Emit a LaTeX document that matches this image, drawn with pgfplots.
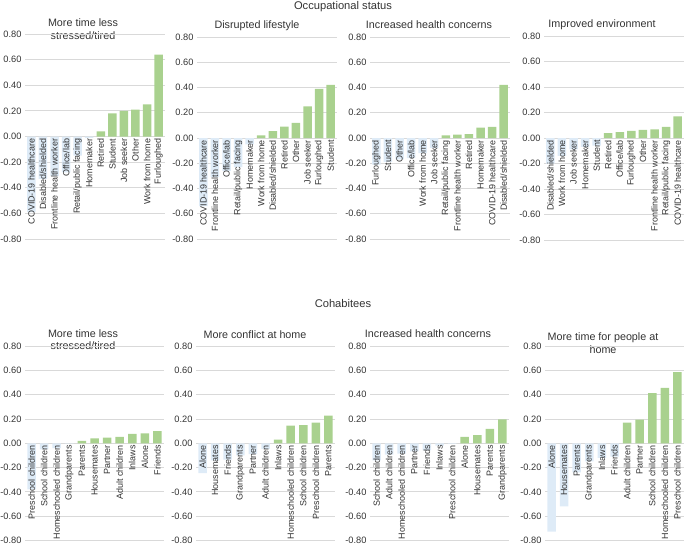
\documentclass[border=0pt]{standalone}
\usepackage{fontspec}
\setmainfont{Liberation Sans}
\usepackage{pgfplots}
\pgfplotsset{compat=1.18}
\definecolor{posgreen}{HTML}{A9D18E}
\definecolor{negblue}{HTML}{DEEBF7}
\definecolor{gridgray}{HTML}{D9D9D9}
\definecolor{txt}{HTML}{333333}
\pgfplotsset{
  panel/.style={
    scale only axis, width=140bp,
    ymin=-0.8, ymax=0.8,
    axis x line=middle, axis y line=left,
    axis line style={draw=none},
    major tick length=0pt,
    hide obscured y ticks=false, hide obscured x ticks=false,
    ytick={-0.8,-0.6,-0.4,-0.2,0,0.2,0.4,0.6,0.8},
    yticklabels={-0.80,-0.60,-0.40,-0.20,0.00,0.20,0.40,0.60,0.80},
    ymajorgrids, grid style={draw=gridgray, line width=0.8bp},
    xticklabel style={rotate=90, anchor=east, font=\fontsize{9}{10}\selectfont, text=txt, inner sep=2bp},
    yticklabel style={font=\fontsize{9.3}{11}\selectfont, text=txt},
    ybar, bar width=8.5bp,
    clip=false, anchor=south west,
  },
  % overlay axis that only carries the category names, drawn above the bars
  names/.style={ymajorgrids=false, ytick=\empty},
  occ/.style={panel, xmin=-0.55, xmax=11.55, xtick={0,...,11}},
  coh/.style={panel, width=139bp, height=194.5bp, xmin=-0.52, xmax=10.52, xtick={0,...,10}},
  neg/.style={fill=negblue, draw=none, bar shift=0pt},
  pos/.style={fill=posgreen, draw=none, bar shift=0pt},
}
\begin{document}
\begin{tikzpicture}
\useasboundingbox (0,0) rectangle (685bp,-551bp);
\tikzset{ttl/.style={font=\fontsize{10.8}{12.5}\selectfont, text=txt, align=center, inner sep=0pt}}
\node[font=\fontsize{11.2}{13}\selectfont, text=txt, inner sep=0pt] at (343bp,-7bp) {Occupational status};
\node[font=\fontsize{11.2}{13}\selectfont, text=txt, inner sep=0pt] at (343bp,-304bp) {Cohabitees};

% ---------- Occupational status ----------
\node[ttl] at (83bp,-29bp) {More time less\\stressed/tired};
\begin{axis}[occ, at={(25bp,-239bp)}, height=205bp, xticklabels={}]
\addplot[neg] coordinates {(0,-0.59) (1,-0.33) (2,-0.31) (3,-0.28) (4,-0.15) (5,-0.01)};
\addplot[pos] coordinates {(6,0.04) (7,0.18) (8,0.20) (9,0.21) (10,0.25) (11,0.64)};
\end{axis}
\begin{axis}[occ, names, at={(25bp,-239bp)}, height=205bp,
  xticklabels={COVID-19 healthcare,Disabled/shielded,Frontline health worker,Office/lab,Retail/public facing,Homemaker,Retired,Student,Job seeker,Other,Work from home,Furloughed}]
\end{axis}

\node[ttl] at (257bp,-26bp) {Disrupted lifestyle};
\begin{axis}[occ, at={(197bp,-239bp)}, height=202bp, xticklabels={}]
\addplot[neg] coordinates {(0,-0.54) (1,-0.31) (2,-0.26) (3,-0.23) (4,-0.05)};
\addplot[pos] coordinates {(5,0.02) (6,0.055) (7,0.09) (8,0.12) (9,0.25) (10,0.39) (11,0.42)};
\end{axis}
\begin{axis}[occ, names, at={(197bp,-239bp)}, height=202bp,
  xticklabels={COVID-19 healthcare,Frontline health worker,Office/lab,Retail/public facing,Homemaker,Work from home,Disabled/shielded,Retired,Other,Job seeker,Furloughed,Student}]
\end{axis}

\node[ttl] at (429bp,-25bp) {Increased health concerns};
\begin{axis}[occ, at={(370bp,-239bp)}, height=202bp, xticklabels={}]
\addplot[neg] coordinates {(0,-0.21) (1,-0.19) (2,-0.17) (3,-0.16) (4,-0.12) (5,-0.08)};
\addplot[pos] coordinates {(6,0.02) (7,0.026) (8,0.03) (9,0.083) (10,0.088) (11,0.42)};
\end{axis}
\begin{axis}[occ, names, at={(370bp,-239bp)}, height=202bp,
  xticklabels={Furloughed,Student,Other,Office/lab,Work from home,Job seeker,Retail/public facing,Frontline health worker,Retired,Homemaker,COVID-19 healthcare,Disabled/shielded}]
\end{axis}

\node[ttl] at (602bp,-25bp) {Improved environment};
\begin{axis}[occ, at={(544bp,-240bp)}, height=204bp, xticklabels={}]
\addplot[neg] coordinates {(0,-0.20) (1,-0.14) (2,-0.09) (3,-0.07) (4,-0.06)};
\addplot[pos] coordinates {(5,0.038) (6,0.046) (7,0.056) (8,0.064) (9,0.067) (10,0.087) (11,0.17)};
\end{axis}
\begin{axis}[occ, names, at={(544bp,-240bp)}, height=204bp,
  xticklabels={Disabled/shielded,Work from home,Job seeker,Homemaker,Student,Retired,Office/lab,Furloughed,Other,Frontline health worker,Retail/public facing,COVID-19 healthcare}]
\end{axis}

% ---------- Cohabitees ----------
\node[ttl] at (83bp,-339.5bp) {More time less\\stressed/tired};
\begin{axis}[coh, at={(25bp,-540.5bp)}, xticklabels={}]
\addplot[neg] coordinates {(0,-0.38) (1,-0.05) (2,-0.04) (3,-0.003)};
\addplot[pos] coordinates {(4,0.02) (5,0.04) (6,0.047) (7,0.053) (8,0.077) (9,0.082) (10,0.10)};
\end{axis}
\begin{axis}[coh, names, at={(25bp,-540.5bp)},
  xticklabels={Preschool children,School children,Homeschooled children,Grandparents,Parents,Housemates,Partner,Adult children,Inlaws,Alone,Friends}]
\end{axis}

\node[ttl] at (255bp,-335bp) {More conflict at home};
\begin{axis}[coh, at={(196bp,-540.5bp)}, xticklabels={}]
\addplot[neg] coordinates {(0,-0.245) (1,-0.14) (2,-0.135) (3,-0.10) (4,-0.09) (5,-0.047)};
\addplot[pos] coordinates {(6,0.03) (7,0.145) (8,0.15) (9,0.17) (10,0.227)};
\end{axis}
\begin{axis}[coh, names, at={(196bp,-540.5bp)},
  xticklabels={Alone,Housemates,Friends,Grandparents,Partner,Adult children,Inlaws,Homeschooled children,School children,Preschool children,Parents}]
\end{axis}

\node[ttl] at (428bp,-334bp) {Increased health concerns};
\begin{axis}[coh, at={(370bp,-540.5bp)}, xticklabels={}]
\addplot[neg] coordinates {(0,-0.14) (1,-0.093) (2,-0.085) (3,-0.066) (4,-0.058) (5,-0.02) (6,-0.005)};
\addplot[pos] coordinates {(7,0.052) (8,0.066) (9,0.118) (10,0.197)};
\end{axis}
\begin{axis}[coh, names, at={(370bp,-540.5bp)},
  xticklabels={School children,Adult children,Homeschooled children,Partner,Friends,Inlaws,Preschool children,Alone,Housemates,Parents,Grandparents}]
\end{axis}

\node[ttl] at (603bp,-343bp) {More time for people at\\home};
\begin{axis}[coh, at={(545bp,-540.5bp)}, xticklabels={}]
\addplot[neg] coordinates {(0,-0.726) (1,-0.52) (2,-0.24) (3,-0.15) (4,-0.12) (5,-0.11)};
\addplot[pos] coordinates {(6,0.17) (7,0.195) (8,0.413) (9,0.455) (10,0.586)};
\end{axis}
\begin{axis}[coh, names, at={(545bp,-540.5bp)},
  xticklabels={Alone,Housemates,Parents,Grandparents,Inlaws,Friends,Adult children,Partner,School children,Homeschooled children,Preschool children}]
\end{axis}
\end{tikzpicture}
\end{document}
